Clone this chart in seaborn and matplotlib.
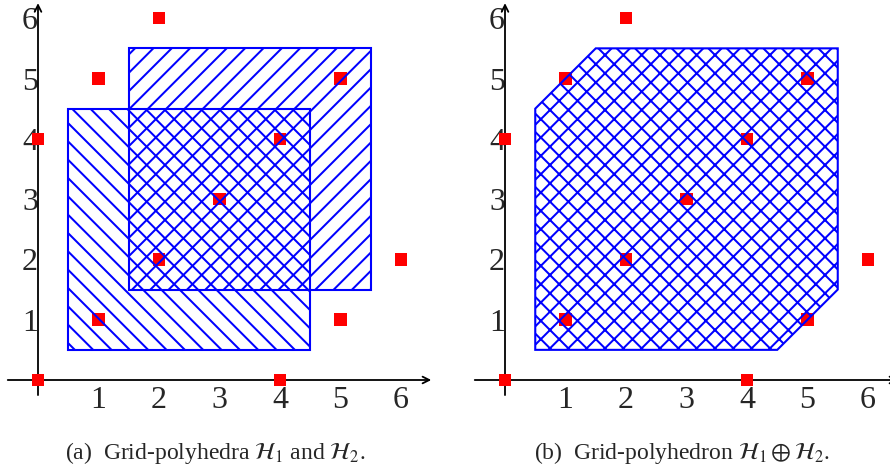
import matplotlib
matplotlib.use("Agg")
import matplotlib.pyplot as plt
from matplotlib.patches import Polygon
import seaborn as sns
import pandas as pd

# ---- data ----
pts_x = [0, 0, 1, 1, 2, 2, 3, 4, 4, 5, 5, 6]
pts_y = [0, 4, 1, 5, 2, 6, 3, 0, 4, 1, 5, 2]
h1_x = [0.5, 4.5, 4.5, 0.5]
h1_y = [0.5, 0.5, 4.5, 4.5]
h2_x = [1.5, 5.5, 5.5, 1.5]
h2_y = [1.5, 1.5, 5.5, 5.5]
sum_x = [0.5, 4.5, 5.5, 5.5, 1.5, 0.5]
sum_y = [0.5, 0.5, 1.5, 5.5, 5.5, 4.5]
tick_vals = [1, 2, 3, 4, 5, 6]
tick_labels = ["1", "2", "3", "4", "5", "6"]
captions = [r"(a)  Grid-polyhedra $\mathcal{H}_1$ and $\mathcal{H}_2$.",
            r"(b)  Grid-polyhedron $\mathcal{H}_1 \oplus \mathcal{H}_2$."]

DPI = 110
k = 100 / DPI  # scale point sizes so pixel sizes stay the same

sns.set_style("white")
plt.rcParams["font.family"] = ["Liberation Serif", "DejaVu Serif"]
plt.rcParams["mathtext.fontset"] = "stix"
plt.rcParams["hatch.linewidth"] = 1.45 * k

W, H = 890, 473
fig = plt.figure(figsize=(W / DPI, H / DPI), dpi=DPI)

unit_x, unit_y = 60.5, 60.3
xlim = (-0.6, 6.7)
ylim = (-0.3, 6.35)
origins = [38, 505]
oy = 380

df = pd.DataFrame({"x": pts_x, "y": pts_y})

axes = []
for ox in origins:
    left = ox + xlim[0] * unit_x
    bottom = oy - ylim[0] * unit_y
    w = (xlim[1] - xlim[0]) * unit_x
    h = (ylim[1] - ylim[0]) * unit_y
    ax = fig.add_axes([left / W, (H - bottom) / H, w / W, h / H])
    ax.set_xlim(*xlim)
    ax.set_ylim(*ylim)
    ax.patch.set_alpha(0)
    for s in ["top", "right"]:
        ax.spines[s].set_visible(False)
    ax.spines["bottom"].set_position(("data", 0))
    ax.spines["left"].set_position(("data", 0))
    ax.spines["bottom"].set_visible(False)
    ax.spines["left"].set_visible(False)
    ax.set_xticks(tick_vals)
    ax.set_xticklabels(tick_labels)
    ax.set_yticks(tick_vals)
    ax.set_yticklabels(tick_labels)
    ax.tick_params(axis="x", length=0, pad=4 * k, labelsize=23 * k)
    ax.tick_params(axis="y", length=0, pad=0, labelsize=23 * k)
    # axis arrows
    ax.annotate("", xy=(6.5, 0), xytext=(-0.5, 0),
                arrowprops=dict(arrowstyle="->", lw=1.3 * k, color="black",
                                mutation_scale=12 * k, shrinkA=0, shrinkB=0),
                annotation_clip=False, zorder=1)
    ax.annotate("", xy=(0, 6.25), xytext=(0, -0.25),
                arrowprops=dict(arrowstyle="->", lw=1.3 * k, color="black",
                                mutation_scale=12 * k, shrinkA=0, shrinkB=0),
                annotation_clip=False, zorder=1)
    sns.scatterplot(data=df, x="x", y="y", ax=ax, marker="s", s=82 * k * k,
                    color="#ff0000", edgecolor="none", linewidth=0,
                    zorder=3, clip_on=False, legend=False)
    ax.set_xlabel("")
    ax.set_ylabel("")
    axes.append(ax)

axL, axR = axes
for xs, ys, hatch in [(h1_x, h1_y, "\\\\"), (h2_x, h2_y, "//")]:
    axL.add_patch(Polygon(list(zip(xs, ys)), closed=True, facecolor="none",
                          edgecolor="#0000ff", hatch=hatch, lw=1.5 * k, zorder=4))
axR.add_patch(Polygon(list(zip(sum_x, sum_y)), closed=True, facecolor="none",
                      edgecolor="#0000ff", hatch="xx", lw=1.5 * k, zorder=4))

fig.text(215 / W, (H - 453) / H, captions[0], ha="center", va="center", fontsize=17 * k)
fig.text(682 / W, (H - 453) / H, captions[1], ha="center", va="center", fontsize=17 * k)

fig.savefig("out.png", dpi=DPI)
